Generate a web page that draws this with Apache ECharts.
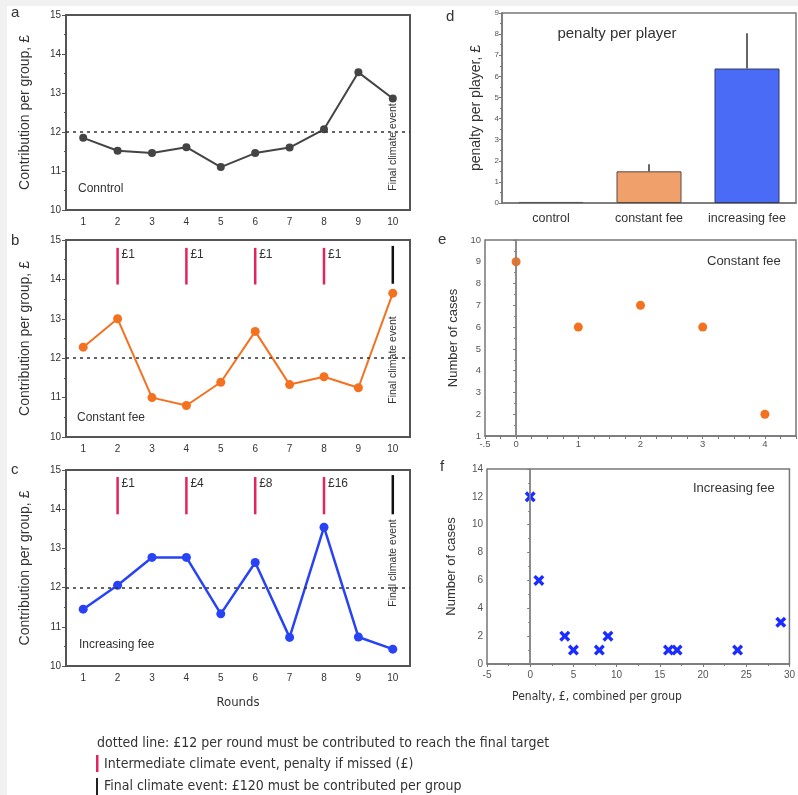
<!DOCTYPE html>
<html><head><meta charset="utf-8">
<script src="https://cdn.jsdelivr.net/npm/echarts@6/dist/echarts.min.js"></script>
<style>html,body{margin:0;padding:0;background:#fff;}#c{width:798px;height:795px;}</style>
</head><body><div id="c"></div>
<script>
// ---------- data ----------
const rounds = ['1','2','3','4','5','6','7','8','9','10'];
const controlVals = [11.85, 11.52, 11.46, 11.61, 11.10, 11.46, 11.60, 12.07, 13.53, 12.86];
const constantVals = [12.28, 13.00, 11.00, 10.80, 11.39, 12.68, 11.33, 11.53, 11.25, 13.65];
const increasingVals = [11.45, 12.06, 12.77, 12.77, 11.33, 12.64, 10.73, 13.54, 10.74, 10.43];
const targetPerRound = 12;
const eventRounds = ['2', '4', '6', '8'];
const constantFeeLabels = ['£1', '£1', '£1', '£1'];
const increasingFeeLabels = ['£1', '£4', '£8', '£16'];
const finalRound = '10';
const eventTop = 14.8, eventBottom = 13.87;

const penaltyCats = ['control', 'constant fee', 'increasing fee'];
const penaltyMeans = [0.05, 1.50, 6.37];
const penaltyUpper = [0.05, 1.83, 8.04];

const constantPenalty = [0, 1, 2, 3, 4];
const constantCases = [9, 6, 7, 6, 2];
const increasingPenalty = [0, 1, 4, 5, 8, 9, 16, 17, 24, 29];
const increasingCases = [12, 6, 2, 1, 1, 2, 1, 1, 1, 3];

const eLabelValues = [-0.5, 0, 1, 2, 3, 4];
const eTickValues = [-0.5,-0.25,0,0.25,0.5,0.75,1,1.25,1.5,1.75,2,2.25,2.5,2.75,3,3.25,3.5,3.75,4,4.25,4.5];

// ---------- style ----------
const FONT = "'Liberation Sans', Arial, sans-serif";
const NARROW = "'Liberation Sans Narrow', 'DejaVu Sans Condensed', 'Liberation Sans', sans-serif";
const ORANGE = '#f4711f', BLUE = '#2743f5', RED = '#e3245c', DARK = '#444';

const chart = echarts.init(document.getElementById('c'), null, {renderer: 'canvas'});

function eventRenderer(labels, color) {
  return function (params, api) {
    const x = api.value(0);
    const p1 = api.coord([x, api.value(1)]);
    const p2 = api.coord([x, api.value(2)]);
    const children = [{type: 'line', shape: {x1: p1[0], y1: p1[1], x2: p2[0], y2: p2[1]},
      style: {stroke: color, lineWidth: 2.5}}];
    if (labels) children.push({type: 'text', x: p1[0] + 4, y: p1[1] + 1,
      style: {text: labels[params.dataIndex], fill: '#333', font: '12px ' + FONT}});
    return {type: 'group', children: children};
  };
}

function roundsAxes(gi, showName) {
  return {
    x: {type: 'category', gridIndex: gi, data: rounds, boundaryGap: true,
      axisLine: {lineStyle: {color: '#555', width: 2}},
      axisTick: {alignWithLabel: true, length: 3, lineStyle: {color: '#555'}},
      axisLabel: {fontSize: 10, color: '#333', margin: 7, fontFamily: FONT, interval: 0},
      name: showName ? 'Rounds' : '', nameLocation: 'middle', nameGap: 30,
      nameTextStyle: {fontSize: 13, color: '#333', fontFamily: NARROW}},
    y: {type: 'value', gridIndex: gi, min: 10, max: 15, interval: 1,
      axisLine: {show: true, lineStyle: {color: '#555', width: 2}},
      axisTick: {show: true, length: 4, lineStyle: {color: '#555'}},
      minorTick: {show: true, splitNumber: 2, length: 2, lineStyle: {color: '#555'}},
      splitLine: {show: false},
      axisLabel: {fontSize: 10, color: '#333', margin: 5, fontFamily: FONT},
      name: 'Contribution per group, £', nameLocation: 'middle', nameGap: 34, nameRotate: 90,
      nameTextStyle: {fontSize: 14, color: '#333', fontFamily: FONT}}
  };
}
const A = roundsAxes(0, false), B = roundsAxes(1, false), C = roundsAxes(2, true);

const targetMark = {silent: true, symbol: 'none', label: {show: false},
  lineStyle: {type: [3, 4], color: '#333', width: 1.5}, data: [{yAxis: targetPerRound}]};

function lineSeries(gi, vals, color, size, width) {
  return {type: 'line', xAxisIndex: gi, yAxisIndex: gi, data: vals, symbol: 'circle', symbolSize: size,
    lineStyle: {color: color, width: width}, itemStyle: {color: color, opacity: 1}, z: 3,
    markLine: targetMark, animation: false};
}

const gridBase = {show: true, backgroundColor: '#fff', containLabel: false};
const finalTxt = {text: 'Final climate event', font: '10.5px ' + FONT, fill: '#333', align: 'center', verticalAlign: 'middle'};
const option = {
  animation: false,
  textStyle: {fontFamily: FONT},
  grid: [
    Object.assign({left: 66, top: 15, width: 344, height: 195, borderColor: '#555', borderWidth: 2}, gridBase),
    Object.assign({left: 66, top: 240, width: 344, height: 197, borderColor: '#555', borderWidth: 2}, gridBase),
    Object.assign({left: 66, top: 470, width: 344, height: 196, borderColor: '#555', borderWidth: 2}, gridBase),
    Object.assign({left: 502, top: 13, width: 294, height: 190, borderColor: '#777', borderWidth: 1.5}, gridBase),
    Object.assign({left: 485, top: 240, width: 311, height: 196, borderColor: '#777', borderWidth: 1.5}, gridBase),
    Object.assign({left: 487, top: 469, width: 310, height: 195, borderColor: '#777', borderWidth: 1.5}, gridBase)
  ],
  xAxis: [A.x, B.x, C.x,
    {type: 'category', gridIndex: 3, data: penaltyCats, boundaryGap: true,
      axisLine: {lineStyle: {color: '#777', width: 1.5}},
      axisTick: {alignWithLabel: true, length: 3, inside: true, lineStyle: {color: '#777'}},
      axisLabel: {fontSize: 12.5, color: '#333', margin: 9, fontFamily: FONT, interval: 0}},
    {type: 'value', gridIndex: 4, min: -0.5, max: 4.5,
      axisLine: {onZero: false, lineStyle: {color: '#777', width: 1.5}},
      axisTick: {show: true, customValues: eTickValues, length: 3, lineStyle: {color: '#777'}},
      axisLabel: {customValues: eLabelValues, fontSize: 9.5, color: '#555', margin: 3,
        formatter: v => (v === -0.5 ? '-.5' : String(v))},
      splitLine: {show: false}},
    {type: 'value', gridIndex: 5, min: -5, max: 30, interval: 5,
      axisLine: {onZero: false, lineStyle: {color: '#777', width: 1.5}},
      axisTick: {show: true, length: 3, lineStyle: {color: '#777'}},
      minorTick: {show: true, splitNumber: 2, length: 2, lineStyle: {color: '#777'}},
      axisLabel: {fontSize: 10, color: '#555', margin: 6, showMaxLabel: true},
      splitLine: {show: false}}
  ],
  yAxis: [A.y, B.y, C.y,
    {type: 'value', gridIndex: 3, min: 0, max: 9, interval: 1,
      axisLine: {show: true, lineStyle: {color: '#777', width: 1.5}},
      axisTick: {show: true, length: 3, lineStyle: {color: '#777'}},
      minorTick: {show: true, splitNumber: 2, length: 2, lineStyle: {color: '#777'}},
      axisLabel: {fontSize: 8, color: '#555', margin: 3},
      splitLine: {show: false},
      name: 'penalty per player, £', nameLocation: 'middle', nameGap: 19, nameRotate: 90,
      nameTextStyle: {fontSize: 14, color: '#333', fontFamily: FONT}},
    {type: 'value', gridIndex: 4, min: 1, max: 10, interval: 1,
      axisLine: {show: true, lineStyle: {color: '#777', width: 1.5}},
      axisTick: {show: true, length: 3, lineStyle: {color: '#777'}},
      minorTick: {show: true, splitNumber: 2, length: 2, lineStyle: {color: '#777'}},
      axisLabel: {fontSize: 9.5, color: '#555', margin: 4},
      splitLine: {show: false},
      name: 'Number of cases', nameLocation: 'middle', nameGap: 25, nameRotate: 90,
      nameTextStyle: {fontSize: 13, color: '#333', fontFamily: FONT}},
    {type: 'value', gridIndex: 5, min: 0, max: 14, interval: 2,
      axisLine: {show: true, lineStyle: {color: '#777', width: 1.5}},
      axisTick: {show: true, length: 3, lineStyle: {color: '#777'}},
      minorTick: {show: true, splitNumber: 2, length: 2, lineStyle: {color: '#777'}},
      axisLabel: {fontSize: 10, color: '#555', margin: 4},
      splitLine: {show: false},
      name: 'Number of cases', nameLocation: 'middle', nameGap: 29, nameRotate: 90,
      nameTextStyle: {fontSize: 13, color: '#333', fontFamily: FONT}}
  ],
  series: [
    lineSeries(0, controlVals, DARK, 8, 2),
    lineSeries(1, constantVals, ORANGE, 9, 2),
    lineSeries(2, increasingVals, BLUE, 9, 2.5),
    {type: 'custom', xAxisIndex: 1, yAxisIndex: 1, renderItem: eventRenderer(constantFeeLabels, RED),
      data: eventRounds.map(r => [r, eventTop, eventBottom]), z: 4},
    {type: 'custom', xAxisIndex: 1, yAxisIndex: 1, renderItem: eventRenderer(null, '#111'),
      data: [[finalRound, eventTop + 0.05, eventBottom + 0.02]], z: 4},
    {type: 'custom', xAxisIndex: 2, yAxisIndex: 2, renderItem: eventRenderer(increasingFeeLabels, RED),
      data: eventRounds.map(r => [r, eventTop + 0.02, eventBottom]), z: 4},
    {type: 'custom', xAxisIndex: 2, yAxisIndex: 2, renderItem: eventRenderer(null, '#111'),
      data: [[finalRound, eventTop + 0.07, eventBottom]], z: 4},
    {type: 'bar', xAxisIndex: 3, yAxisIndex: 3, barWidth: 65,
      data: penaltyMeans.map((v, i) => ({value: v, itemStyle: {
        color: ['#666', '#f0a06b', '#4a6bf6'][i], borderColor: ['#555', '#5a4a40', '#333a66'][i], borderWidth: 1}}))},
    {type: 'custom', xAxisIndex: 3, yAxisIndex: 3, z: 5,
      renderItem: function (params, api) {
        const x = api.value(0);
        const p1 = api.coord([x, api.value(1)]);
        const p2 = api.coord([x, api.value(2)]);
        return {type: 'line', shape: {x1: p1[0], y1: p1[1], x2: p2[0], y2: p2[1]},
          style: {stroke: '#333', lineWidth: 1.5}};
      },
      data: penaltyCats.map((c, i) => [c, penaltyMeans[i], penaltyUpper[i]])},
    {type: 'scatter', xAxisIndex: 4, yAxisIndex: 4, symbol: 'circle', symbolSize: 9,
      itemStyle: {color: ORANGE, opacity: 1}, data: constantPenalty.map((x, i) => [x, constantCases[i]]),
      markLine: {silent: true, symbol: 'none', label: {show: false},
        lineStyle: {type: 'solid', color: '#888', width: 1.5}, data: [{xAxis: 0}]}},
    {type: 'scatter', xAxisIndex: 5, yAxisIndex: 5,
      symbol: 'path://M0,2.2L2.2,0L5,2.8L7.8,0L10,2.2L7.2,5L10,7.8L7.8,10L5,7.2L2.2,10L0,7.8L2.8,5Z', symbolSize: 11,
      itemStyle: {color: '#1a2cff', opacity: 1}, data: increasingPenalty.map((x, i) => [x, increasingCases[i]]),
      markLine: {silent: true, symbol: 'none', label: {show: false},
        lineStyle: {type: 'solid', color: '#888', width: 1.5}, data: [{xAxis: 0}]}}
  ],
  graphic: [
    {type: 'rect', shape: {x: 0, y: 0, width: 798, height: 6}, style: {fill: '#f1f1f1'}, z: -10},
    {type: 'rect', shape: {x: 0, y: 0, width: 7, height: 795}, style: {fill: '#f1f1f1'}, z: -10},
    {type: 'text', x: 11, y: 5, style: {text: 'a', font: '15px ' + FONT, fill: '#333'}},
    {type: 'text', x: 11, y: 233, style: {text: 'b', font: '15px ' + FONT, fill: '#333'}},
    {type: 'text', x: 11, y: 462, style: {text: 'c', font: '15px ' + FONT, fill: '#333'}},
    {type: 'text', x: 446, y: 9, style: {text: 'd', font: '15px ' + FONT, fill: '#333'}},
    {type: 'text', x: 438, y: 232, style: {text: 'e', font: '15px ' + FONT, fill: '#333'}},
    {type: 'text', x: 440, y: 459, style: {text: 'f', font: '15px ' + FONT, fill: '#333'}},
    {type: 'text', x: 78, y: 189, style: {text: 'Conntrol', font: '12px ' + FONT, fill: '#333', verticalAlign: 'middle'}},
    {type: 'text', x: 77, y: 418, style: {text: 'Constant fee', font: '12px ' + FONT, fill: '#333', verticalAlign: 'middle'}},
    {type: 'text', x: 79, y: 645, style: {text: 'Increasing fee', font: '12px ' + FONT, fill: '#333', verticalAlign: 'middle'}},
    {type: 'text', x: 393, y: 147, rotation: Math.PI / 2, style: finalTxt},
    {type: 'text', x: 393, y: 360, rotation: Math.PI / 2, style: finalTxt},
    {type: 'text', x: 393, y: 563, rotation: Math.PI / 2, style: finalTxt},
    {type: 'text', x: 617, y: 34, style: {text: 'penalty per player', font: '15px ' + FONT, fill: '#333', align: 'center', verticalAlign: 'middle'}},
    {type: 'text', x: 707, y: 261, style: {text: 'Constant fee', font: '13px ' + FONT, fill: '#333', verticalAlign: 'middle'}},
    {type: 'text', x: 693, y: 488, style: {text: 'Increasing fee', font: '13px ' + FONT, fill: '#333', verticalAlign: 'middle'}},
    {type: 'text', x: 597, y: 697, style: {text: 'Penalty, £, combined per group', font: '12px ' + NARROW, fill: '#333', align: 'center', verticalAlign: 'middle'}},
    {type: 'text', x: 97, y: 743, style: {text: 'dotted line: £12 per round must be contributed to reach the final target', font: '14px ' + NARROW, fill: '#333', verticalAlign: 'middle'}},
    {type: 'rect', shape: {x: 96, y: 755, width: 2.5, height: 17}, style: {fill: RED}},
    {type: 'text', x: 104, y: 764, style: {text: 'Intermediate climate event, penalty if missed (£)', font: '14px ' + NARROW, fill: '#333', verticalAlign: 'middle'}},
    {type: 'rect', shape: {x: 96, y: 778, width: 2, height: 17}, style: {fill: '#222'}},
    {type: 'text', x: 104, y: 786, style: {text: 'Final climate event: £120 must be contributed per group', font: '14px ' + NARROW, fill: '#333', verticalAlign: 'middle'}}
  ]
};
chart.setOption(option);
</script></body></html>
